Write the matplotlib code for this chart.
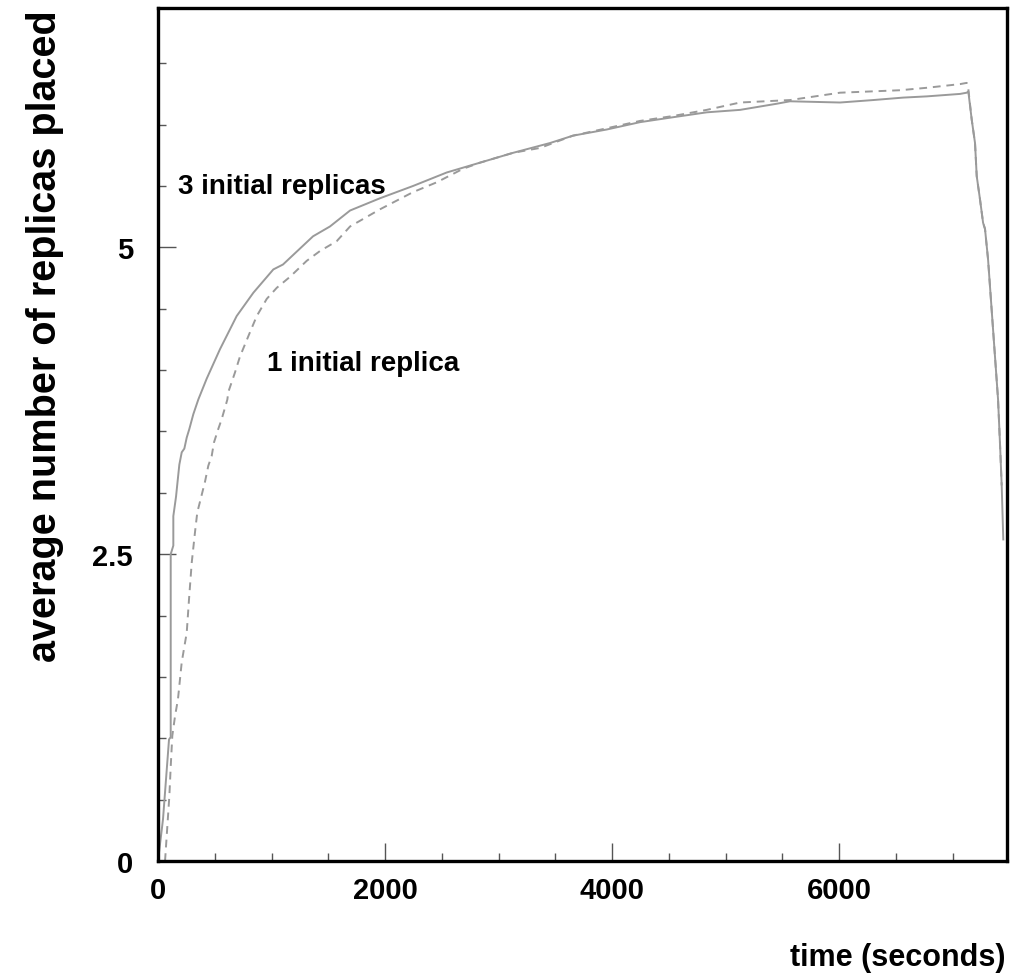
import matplotlib
matplotlib.use("Agg")
import matplotlib.pyplot as plt
from matplotlib.ticker import MultipleLocator

plt.rcParams['font.family'] = ['Liberation Sans', 'DejaVu Sans']
plt.rcParams['font.weight'] = 'bold'

# 3 initial replicas (solid)
t3 = [0, 44, 97, 112, 112, 135, 135, 159, 170, 188, 209, 232, 253, 276, 311, 355,
      429, 546, 693, 840, 1016, 1101, 1366, 1515, 1692, 1956, 2247, 2544, 2837,
      3128, 3454, 3656, 3953, 4247, 4537, 4834, 5128, 5451, 5568, 6009, 6300,
      6564, 6773, 7066, 7125, 7139, 7169, 7198, 7213, 7242, 7269, 7286, 7313,
      7401, 7419, 7433, 7447]
r3 = [0, 0.34, 0.99, 1.01, 2.50, 2.57, 2.81, 2.97, 3.07, 3.23, 3.33, 3.36, 3.45,
      3.52, 3.64, 3.76, 3.93, 4.17, 4.44, 4.63, 4.82, 4.86, 5.09, 5.17, 5.30,
      5.40, 5.50, 5.61, 5.69, 5.77, 5.85, 5.91, 5.96, 6.02, 6.06, 6.10, 6.12,
      6.17, 6.19, 6.18, 6.20, 6.22, 6.23, 6.25, 6.26, 6.27, 6.04, 5.85, 5.58,
      5.39, 5.20, 5.15, 4.90, 3.76, 3.38, 3.06, 2.62]

# 1 initial replica (dashed)
t1 = [62, 100, 112, 126, 150, 176, 209, 253, 273, 297, 326, 346, 376, 414, 443,
      473, 493, 531, 561, 611, 619, 678, 722, 811, 870, 958, 1046, 1163, 1310,
      1427, 1574, 1692, 1956, 2247, 2456, 2687, 2837, 3128, 3366, 3656, 3953,
      4247, 4537, 4834, 5128, 5568, 6009, 6537, 6773, 7066, 7125, 7139, 7169,
      7198, 7213, 7242, 7269, 7286, 7313, 7401, 7419, 7433]
r1 = [0, 0.53, 0.77, 1.02, 1.18, 1.32, 1.62, 1.86, 2.13, 2.43, 2.68, 2.84, 2.95,
      3.09, 3.22, 3.30, 3.41, 3.52, 3.60, 3.76, 3.82, 3.98, 4.11, 4.31, 4.44,
      4.58, 4.67, 4.76, 4.89, 4.97, 5.05, 5.17, 5.31, 5.45, 5.53, 5.64, 5.69,
      5.77, 5.81, 5.91, 5.97, 6.03, 6.07, 6.12, 6.18, 6.20, 6.26, 6.28, 6.30,
      6.33, 6.34, 6.29, 6.04, 5.85, 5.58, 5.39, 5.20, 5.15, 4.90, 3.76, 3.38, 3.06]

fig = plt.figure(figsize=(10.28, 9.79), dpi=100)
ax = fig.add_axes([0.1537, 0.1195, 0.8259, 0.8713])

ax.plot(t3, r3, color='#9a9a9a', lw=1.4, ls='-')
ax.plot(t1, r1, color='#9a9a9a', lw=1.4, ls=(0, (4, 3)))

ax.set_xlim(0, 7480)
ax.set_ylim(0, 6.95)

ax.xaxis.set_major_locator(MultipleLocator(2000))
ax.xaxis.set_minor_locator(MultipleLocator(500))
ax.yaxis.set_minor_locator(MultipleLocator(0.5))
ax.set_yticks([0, 2.5, 5])
ax.set_yticklabels(['0', '2.5', '5'])

ax.tick_params(which='both', direction='in', top=False, right=False,
               color='#555555', width=1.0, labelsize=21)
ax.tick_params(which='major', length=13)
ax.tick_params(which='minor', length=6)
ax.tick_params(axis='y', which='major', pad=18)
ax.tick_params(axis='x', which='major', pad=11)
for lab in ax.get_xticklabels() + ax.get_yticklabels():
    lab.set_fontweight('bold')

for s in ax.spines.values():
    s.set_linewidth(2.4)
    s.set_color('black')

ax.text(180, 5.5, '3 initial replicas', fontsize=20, fontweight='bold',
        va='center', ha='left')
ax.text(960, 4.06, '1 initial replica', fontsize=20, fontweight='bold',
        va='center', ha='left')

fig.text(0.044, 0.99, 'average number of replicas placed', rotation=90,
         fontsize=28.5, fontweight='bold', ha='center', va='top')
fig.text(0.978, 0.021, 'time (seconds)', fontsize=22, fontweight='bold',
         ha='right', va='center')

fig.savefig('out.png', dpi=100)
